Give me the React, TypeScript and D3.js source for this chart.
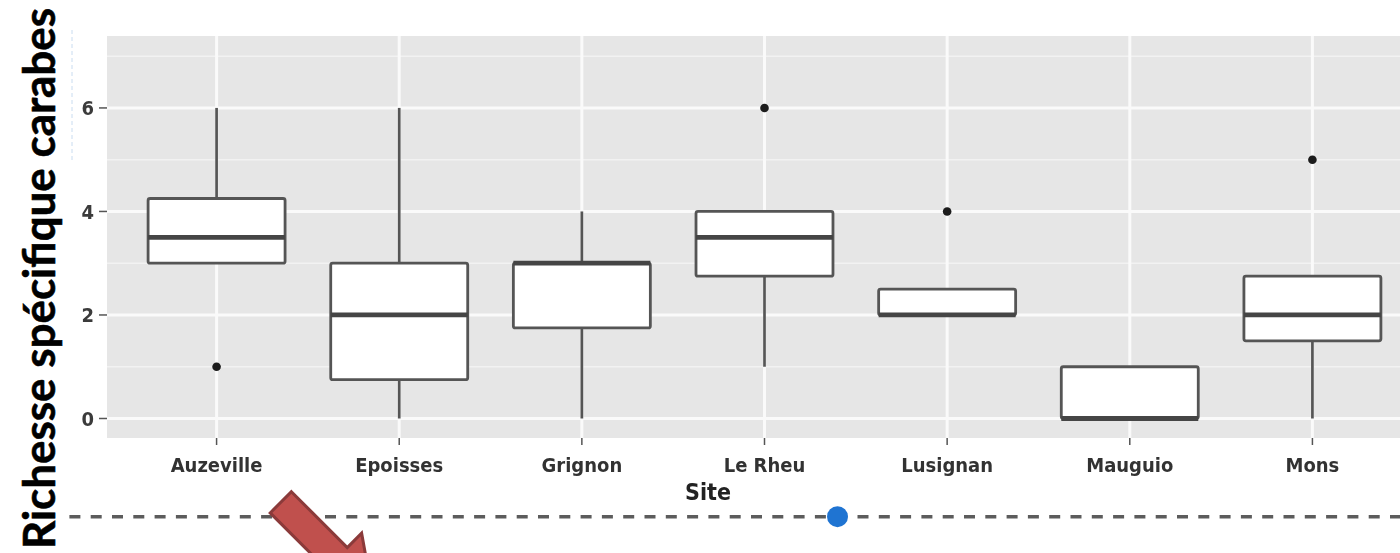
import React from "react";
import * as d3 from "d3";

const sites = ["Auzeville", "Epoisses", "Grignon", "Le Rheu", "Lusignan", "Mauguio", "Mons"];
const lowerWhisker = [3, 0, 0, 1, 2, 0, 0];
const q1 = [3, 0.75, 1.75, 2.75, 2, 0, 1.5];
const median = [3.5, 2, 3, 3.5, 2, 0, 2];
const q3 = [4.25, 3, 3, 4, 2.5, 1, 2.75];
const upperWhisker = [6, 6, 4, 4, 2.5, 1, 2.75];
const outliers = [[1], [], [], [6], [4], [], [5]];
const yTicks = [0, 2, 4, 6];
const yMinor = [1, 3, 5, 7];
const yTitle = "Richesse spécifique carabes";
const xTitle = "Site";

const W = 1400;
const H = 553;
const panel = { left: 107, right: 1422, top: 36, bottom: 438 };

export default function App() {
  const x = d3.scaleLinear().domain([0.4, sites.length + 0.6]).range([panel.left, panel.right]);
  const y = d3.scaleLinear().domain([-0.377, 7.39]).range([panel.bottom, panel.top]);
  const bw = x(1.75) - x(1);
  const tickFont = "'Liberation Sans Narrow', 'Arial Narrow', 'DejaVu Sans Condensed', 'Liberation Sans', sans-serif";

  // arrow geometry (local coordinates along / across its axis)
  const ax = 280.8, ay = 502.3;
  const d = [Math.SQRT1_2, Math.SQRT1_2];
  const n = [Math.SQRT1_2, -Math.SQRT1_2];
  const local: [number, number][] = [
    [0, 15], [79, 15], [79, 35.3], [130, 0], [79, -35.3], [79, -15], [0, -15],
  ];
  const arrowPts = local
    .map(([u, v]) => [ax + u * d[0] + v * n[0], ay + u * d[1] + v * n[1]].join(","))
    .join(" ");

  return (
    <div style={{ position: "fixed", left: 0, top: 0, width: W, height: H, background: "#fff" }}>
      <svg width={W} height={H} style={{ display: "block" }}>
        <defs>
          <filter id="soft" x="-5%" y="-5%" width="110%" height="110%">
            <feGaussianBlur stdDeviation="0.55" />
          </filter>
          <clipPath id="pclip">
            <rect x={panel.left} y={panel.top} width={panel.right - panel.left} height={panel.bottom - panel.top} />
          </clipPath>
        </defs>

        <g filter="url(#soft)">
          <rect x={panel.left} y={panel.top} width={panel.right - panel.left} height={panel.bottom - panel.top} fill="#e6e6e6" />
          <g clipPath="url(#pclip)">
            {yMinor.map((v) => (
              <line key={"mi" + v} x1={panel.left} x2={panel.right} y1={y(v)} y2={y(v)} stroke="#f2f2f2" strokeWidth={1.6} />
            ))}
            {yTicks.map((v) => (
              <line key={"ma" + v} x1={panel.left} x2={panel.right} y1={y(v)} y2={y(v)} stroke="#fafafa" strokeWidth={3} />
            ))}
            {sites.map((s, i) => (
              <line key={"vx" + s} x1={x(i + 1)} x2={x(i + 1)} y1={panel.top} y2={panel.bottom} stroke="#fafafa" strokeWidth={3} />
            ))}
          </g>

          {sites.map((s, i) => {
            const cx = x(i + 1);
            return (
              <g key={"box" + s}>
                {upperWhisker[i] > q3[i] && (
                  <line x1={cx} x2={cx} y1={y(q3[i])} y2={y(upperWhisker[i])} stroke="#555" strokeWidth={2.7} />
                )}
                {lowerWhisker[i] < q1[i] && (
                  <line x1={cx} x2={cx} y1={y(q1[i])} y2={y(lowerWhisker[i])} stroke="#555" strokeWidth={2.7} />
                )}
                <rect
                  x={cx - bw / 2}
                  y={y(q3[i])}
                  width={bw}
                  height={y(q1[i]) - y(q3[i])}
                  fill="#ffffff"
                  stroke="#555"
                  strokeWidth={2.8}
                  rx={2}
                />
                <line x1={cx - bw / 2} x2={cx + bw / 2} y1={y(median[i])} y2={y(median[i])} stroke="#444" strokeWidth={4.8} />
                {outliers[i].map((o, k) => (
                  <circle key={k} cx={cx} cy={y(o)} r={4.3} fill="#1a1a1a" />
                ))}
              </g>
            );
          })}

          {yTicks.map((v) => (
            <g key={"yt" + v}>
              <line x1={panel.left - 8} x2={panel.left} y1={y(v)} y2={y(v)} stroke="#555" strokeWidth={1.5} />
              <text x={panel.left - 13} y={y(v)} dy="0.36em" textAnchor="end" fontFamily={tickFont} fontWeight="bold" fontSize={20} fill="#3b3b3b">
                {v}
              </text>
            </g>
          ))}
          {sites.map((s, i) => (
            <g key={"xt" + s}>
              <line x1={x(i + 1)} x2={x(i + 1)} y1={panel.bottom} y2={panel.bottom + 7} stroke="#555" strokeWidth={1.5} />
              <text x={x(i + 1)} y={465} dy="0.36em" textAnchor="middle" fontFamily={tickFont} fontWeight="bold" fontSize={20} fill="#333">
                {s}
              </text>
            </g>
          ))}
          <text x={708} y={492} dy="0.36em" textAnchor="middle" fontFamily={tickFont} fontWeight="bold" fontSize={23} fill="#222">
            {xTitle}
          </text>
        </g>

        <line x1={72} x2={72} y1={30} y2={160} stroke="#c9dcf0" strokeWidth={1} strokeDasharray="4 3" />

        <line x1={69.4} x2={W} y1={516.7} y2={516.7} stroke="#5c5c5c" strokeWidth={3.5} strokeDasharray="11 10.3" />
        <polygon points={arrowPts} fill="#C0504D" stroke="#8B3A3A" strokeWidth={3} strokeLinejoin="miter" />
        <circle cx={837.5} cy={516.7} r={10.5} fill="#1f74d2" />

        <text
          transform="translate(55,549) rotate(-90)"
          x={0}
          y={0}
          fontFamily="Lato, 'Open Sans', sans-serif"
          fontWeight="bold"
          fontSize={44}
          fill="#000"
          stroke="#000"
          strokeWidth={0.6}
          textLength={541}
          lengthAdjust="spacingAndGlyphs"
        >
          {yTitle}
        </text>
      </svg>
    </div>
  );
}
